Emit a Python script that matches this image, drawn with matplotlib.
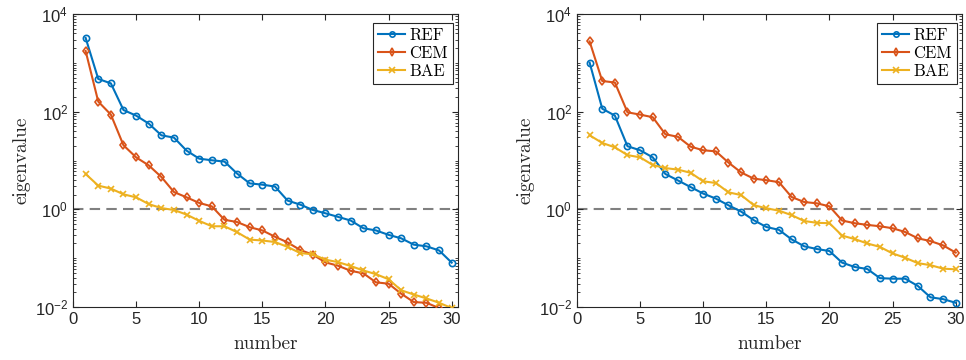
import numpy as np
import matplotlib
matplotlib.use("Agg")
import matplotlib.pyplot as plt
from matplotlib.ticker import FixedLocator, FuncFormatter

number = list(range(1, 31))

ref_left = [3240, 468, 380, 108, 83, 57, 32.8, 29.4, 15.9, 10.9, 10.1, 9.5, 5.4, 3.4, 3.2,
            2.93, 1.51, 1.25, 0.97, 0.83, 0.70, 0.59, 0.41, 0.37, 0.30, 0.255, 0.189, 0.175, 0.144, 0.081]
cem_left = [1750, 161, 87, 20.5, 11.6, 7.95, 4.6, 2.26, 1.76, 1.35, 1.15, 0.61, 0.55, 0.43, 0.37,
            0.275, 0.21, 0.147, 0.118, 0.082, 0.070, 0.055, 0.049, 0.032, 0.030, 0.0187, 0.0126, 0.0122, 0.0095, 0.007]
bae_left = [5.3, 3.06, 2.66, 2.03, 1.76, 1.28, 1.06, 0.97, 0.78, 0.58, 0.45, 0.45, 0.34, 0.24, 0.23,
            0.214, 0.17, 0.127, 0.12, 0.093, 0.083, 0.069, 0.056, 0.047, 0.037, 0.022, 0.018, 0.015, 0.0122, 0.0095]

ref_right = [1010, 115, 83, 19.6, 16.2, 11.6, 5.3, 3.9, 2.86, 2.1, 1.66, 1.21, 0.90, 0.60, 0.435,
             0.38, 0.243, 0.175, 0.154, 0.14, 0.081, 0.066, 0.060, 0.039, 0.038, 0.038, 0.027, 0.0158, 0.0145, 0.0122]
cem_right = [2740, 425, 395, 97, 87, 77, 34.5, 30.5, 19.2, 16.2, 15.4, 9.06, 5.7, 4.25, 3.95,
             3.6, 1.79, 1.41, 1.33, 1.15, 0.59, 0.52, 0.48, 0.45, 0.41, 0.343, 0.255, 0.224, 0.183, 0.13]
bae_right = [32.8, 22.9, 18.6, 12.9, 11.6, 8.1, 7.0, 6.5, 5.6, 3.75, 3.46, 2.23, 1.96, 1.22, 1.05,
             0.94, 0.76, 0.576, 0.53, 0.52, 0.29, 0.246, 0.20, 0.17, 0.125, 0.102, 0.079, 0.072, 0.061, 0.059]

series_names = ["REF", "CEM", "BAE"]
colors = ["#0072BD", "#D95319", "#EDB120"]
markers = ["o", "d", "x"]

fig = plt.figure(figsize=(9.66, 3.6), dpi=100)
W, H = 966, 360
axes_px = [(73, 14, 458, 307), (577, 14, 962, 307)]
axc = (0.15, 0.15, 0.15)

def fmt(v, pos):
    e = int(round(np.log10(v)))
    return r"$\mathregular{10^{%d}}$" % e

datasets = [(ref_left, cem_left, bae_left), (ref_right, cem_right, bae_right)]
for (l, t, r, b), data in zip(axes_px, datasets):
    ax = fig.add_axes([l / W, 1 - b / H, (r - l) / W, (b - t) / H])
    ax.axhline(1.0, color=(0.5, 0.5, 0.5), ls=(0, (5, 3)), lw=1.5, zorder=1)
    for vals, name, c, m in zip(data, series_names, colors, markers):
        ax.plot(number, vals, color=c, marker=m, markersize=4.5 if m != "x" else 5,
                markerfacecolor="none", markeredgewidth=1.2, lw=1.5, label=name,
                clip_on=True, zorder=3)
    ax.set_yscale("log")
    ax.set_ylim(1e-2, 1e4)
    ax.set_xlim(0, 30.5)
    ax.set_xticks([0, 5, 10, 15, 20, 25, 30])
    ax.yaxis.set_major_locator(FixedLocator([1e-2, 1e0, 1e2, 1e4]))
    minors = []
    for k in range(-2, 4):
        for d in range(1, 10):
            v = d * 10.0 ** k
            if v not in (1e-2, 1e0, 1e2, 1e4):
                minors.append(v)
    ax.yaxis.set_minor_locator(FixedLocator(minors))
    ax.yaxis.set_minor_formatter(FuncFormatter(lambda v, p: ""))
    ax.yaxis.set_major_formatter(FuncFormatter(fmt))
    ax.tick_params(which="both", direction="in", top=True, right=True, colors=axc,
                   labelcolor=axc)
    ax.tick_params(which="major", length=4, width=0.8, labelsize=12)
    ax.tick_params(which="minor", length=2, width=0.6)
    for lab in ax.get_xticklabels() + ax.get_yticklabels():
        lab.set_fontfamily("Liberation Sans")
    for s in ax.spines.values():
        s.set_color(axc)
        s.set_linewidth(0.8)
    ax.set_xlabel("number", fontfamily="cmr10", fontsize=14, color=axc, labelpad=6)
    ax.set_ylabel("eigenvalue", fontfamily="cmr10", fontsize=14, color=axc, labelpad=3)
    ax_w, ax_h = (r - l), (b - t)
    anchor = ((r - 5.3 - l) / ax_w, (b - 23) / ax_h)
    leg = ax.legend(loc="upper right", bbox_to_anchor=anchor, bbox_transform=ax.transAxes,
                    prop={"family": "cmr10", "size": 12},
                    frameon=True, fancybox=False, edgecolor=axc, framealpha=1,
                    handlelength=1.6, handletextpad=0.25, borderpad=0.3,
                    labelspacing=0.15, borderaxespad=0.0, markerscale=0.85)
    leg.get_frame().set_linewidth(0.8)

fig.savefig("out.png", dpi=100)
